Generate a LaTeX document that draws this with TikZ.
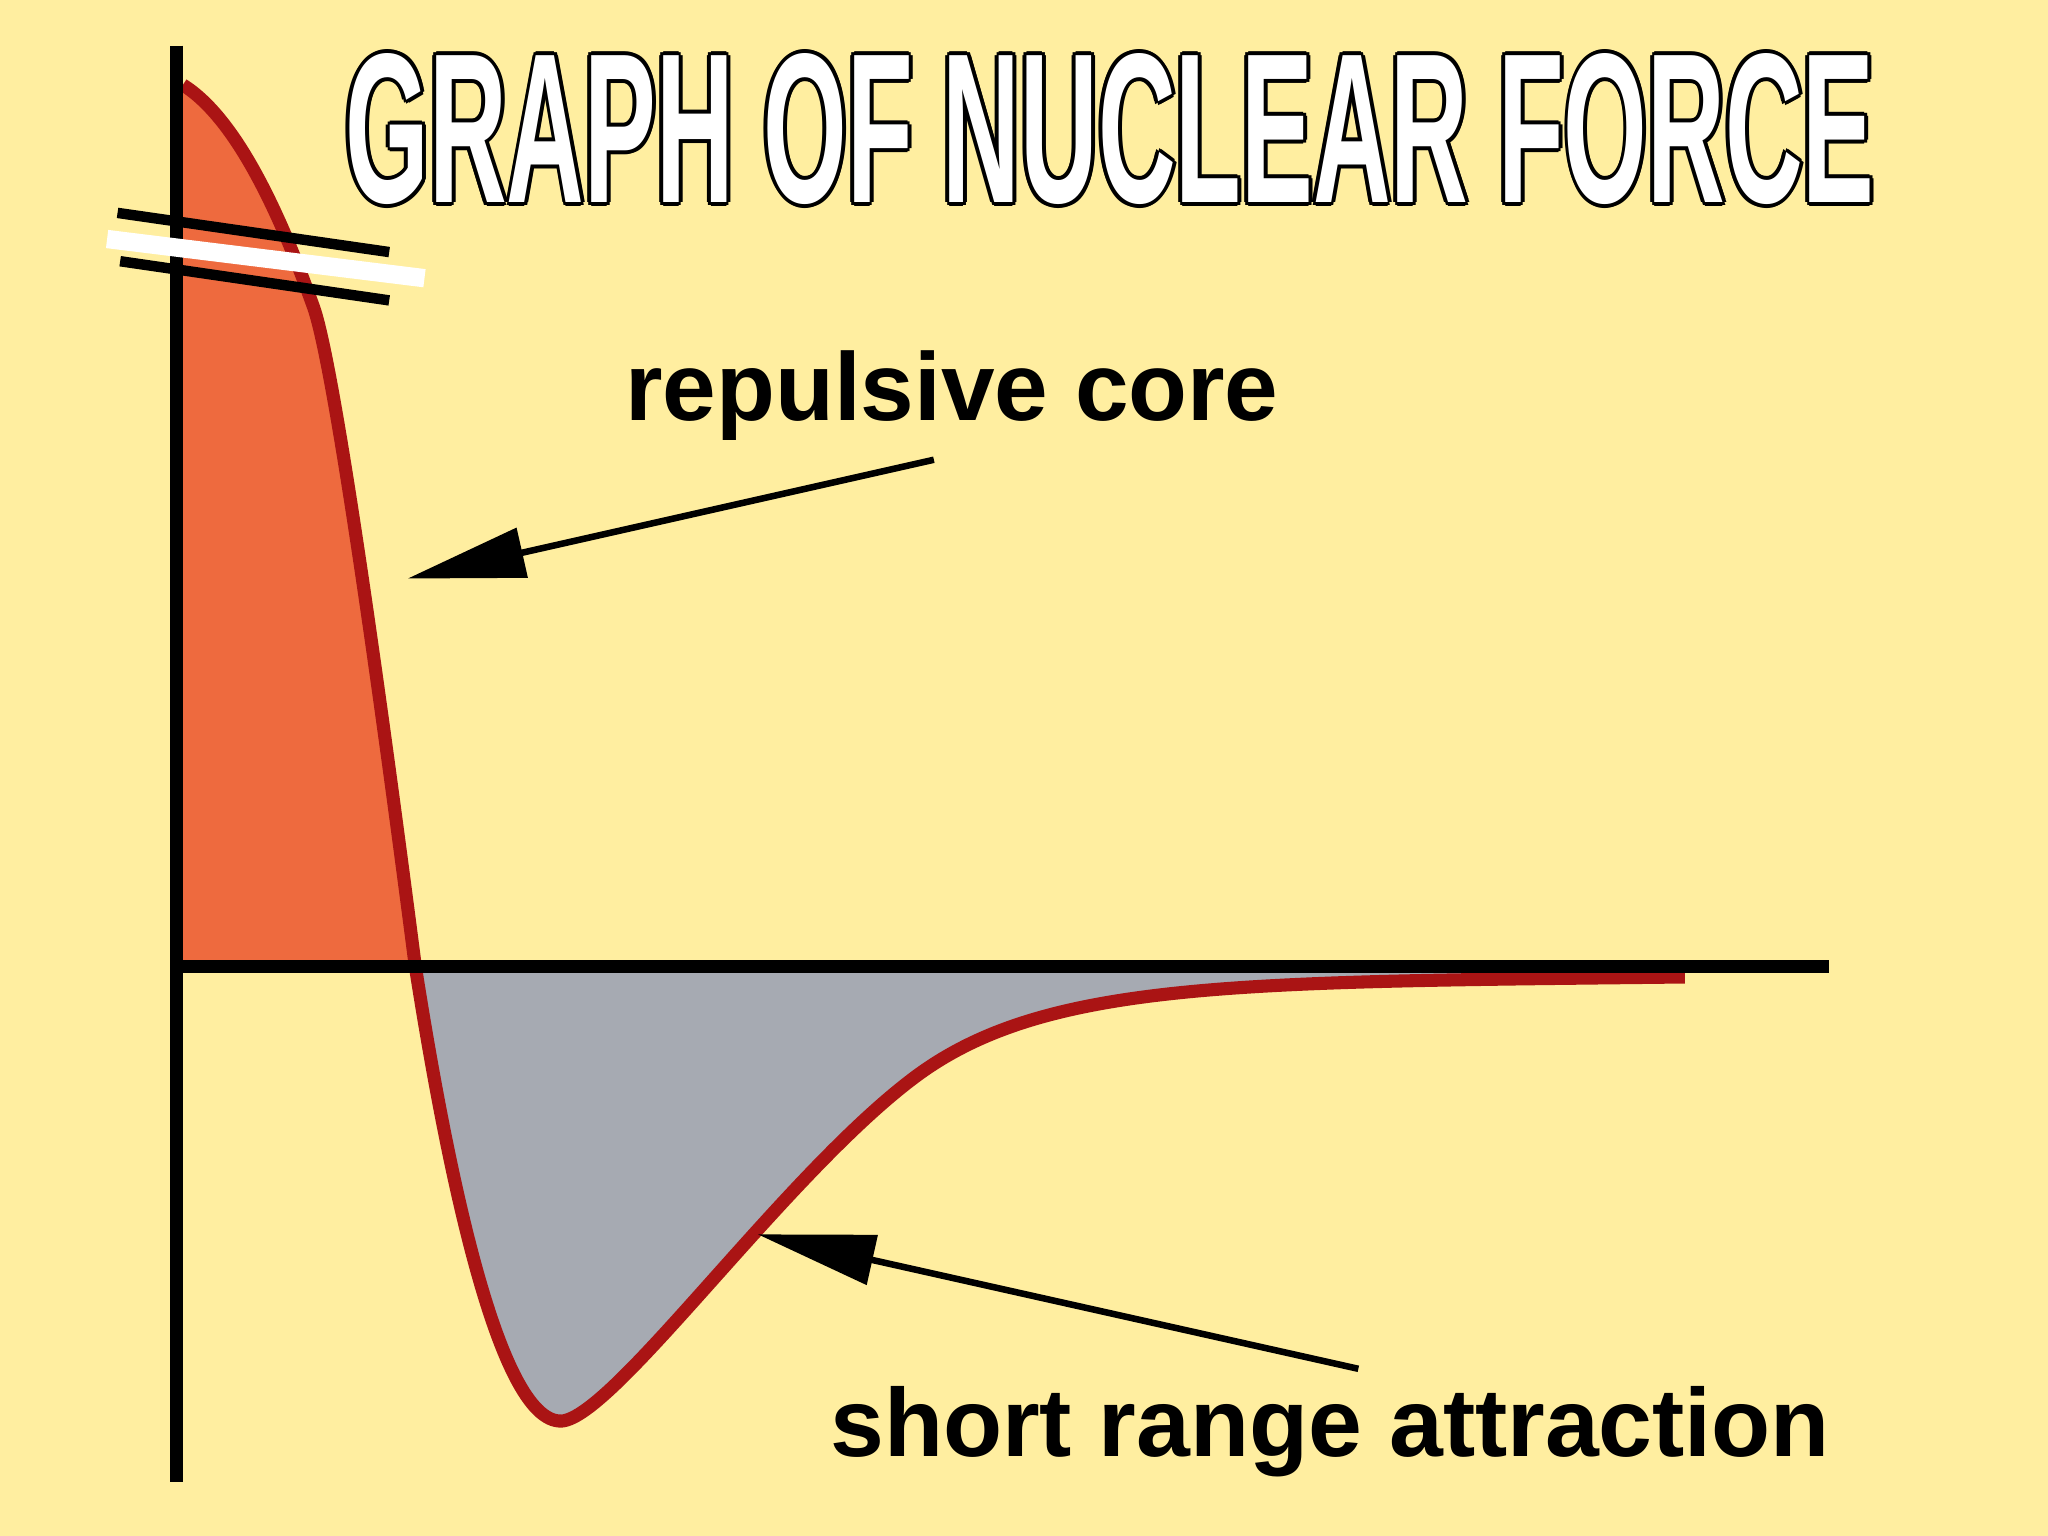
\documentclass[tikz,border=0pt]{standalone}
\usepackage{fontspec}
\setmainfont{Liberation Sans}
\usetikzlibrary{arrows.meta}
\definecolor{bg}{RGB}{255,238,160}
\definecolor{redfill}{RGB}{238,106,62}
\definecolor{grayfill}{RGB}{166,170,178}
\definecolor{curve}{RGB}{170,20,20}
\tikzset{axis/.style={line width=0.1cm,black},
 lbl/.style={inner sep=0,anchor=base west},
 pointer/.style={line width=0.05cm,-{Triangle[length=0.9cm,width=0.38cm]}}}
\newcommand{\titletext}{\resizebox{11.7cm}{1.14cm}{\bfseries GRAPH OF NUCLEAR FORCE}}
\begin{document}
\begin{tikzpicture}[x={(0.01cm,0)},y={(0,-0.01cm)}]
\fill[bg] (0,0) rectangle (1568,1176);
\useasboundingbox (0,0) rectangle (1568,1176);
% fills
\fill[redfill] (140,740) -- (140,65) .. controls (180,90) and (213,160) .. (240,235) .. controls (258,285) and (300,600) .. (318,740) -- cycle;
\fill[grayfill] (318,740) .. controls (340,880) and (380,1090) .. (430,1088) .. controls (470,1085) and (600,900) .. (700,825) .. controls (800,750) and (950,752) .. (1290,748) -- (1290,740) -- cycle;
% curve
\draw[curve,line width=0.1cm,line join=round] (140,65) .. controls (180,90) and (213,160) .. (240,235) .. controls (258,285) and (300,600) .. (318,740) .. controls (340,880) and (380,1090) .. (430,1088) .. controls (470,1085) and (600,900) .. (700,825) .. controls (800,750) and (950,752) .. (1290,748);
% axes
\coordinate (otop) at (135,35);
\coordinate (obot) at (135,1135);
\coordinate (o) at (135,740);
\coordinate (xend) at (1400,740);
\draw[axis] (otop) -- (obot);
\draw[axis] (o) -- (xend);
% break
\draw[white,line width=0.14cm] (82,183) -- (325,213);
\draw[line width=0.08cm] (90,163) -- (298,193);
\draw[line width=0.08cm] (92,200) -- (298,230);
% title
\foreach \dx/\dy in {-3/0,3/0,0/-3,0/3,-2/-2,2/2,-2/2,2/-2}
  \node[inner sep=0,anchor=base,text=black] at (850+\dx,155+\dy) {\titletext};
\node[inner sep=0,anchor=base,text=white] (title) at (850,155) {\titletext};
% labels
\node[lbl] (rep) at (478,322) {\resizebox{5.0cm}{!}{\bfseries repulsive core}};
\node[lbl] (sra) at (635,1115) {\resizebox{7.65cm}{!}{\bfseries short range attraction}};
\coordinate (a1s) at (715,352); \coordinate (a1e) at (312,443);
\coordinate (a2s) at (1040,1048); \coordinate (a2e) at (580,945);
\draw[pointer] (a1s) -- (a1e);
\draw[pointer] (a2s) -- (a2e);
\end{tikzpicture}
\end{document}
